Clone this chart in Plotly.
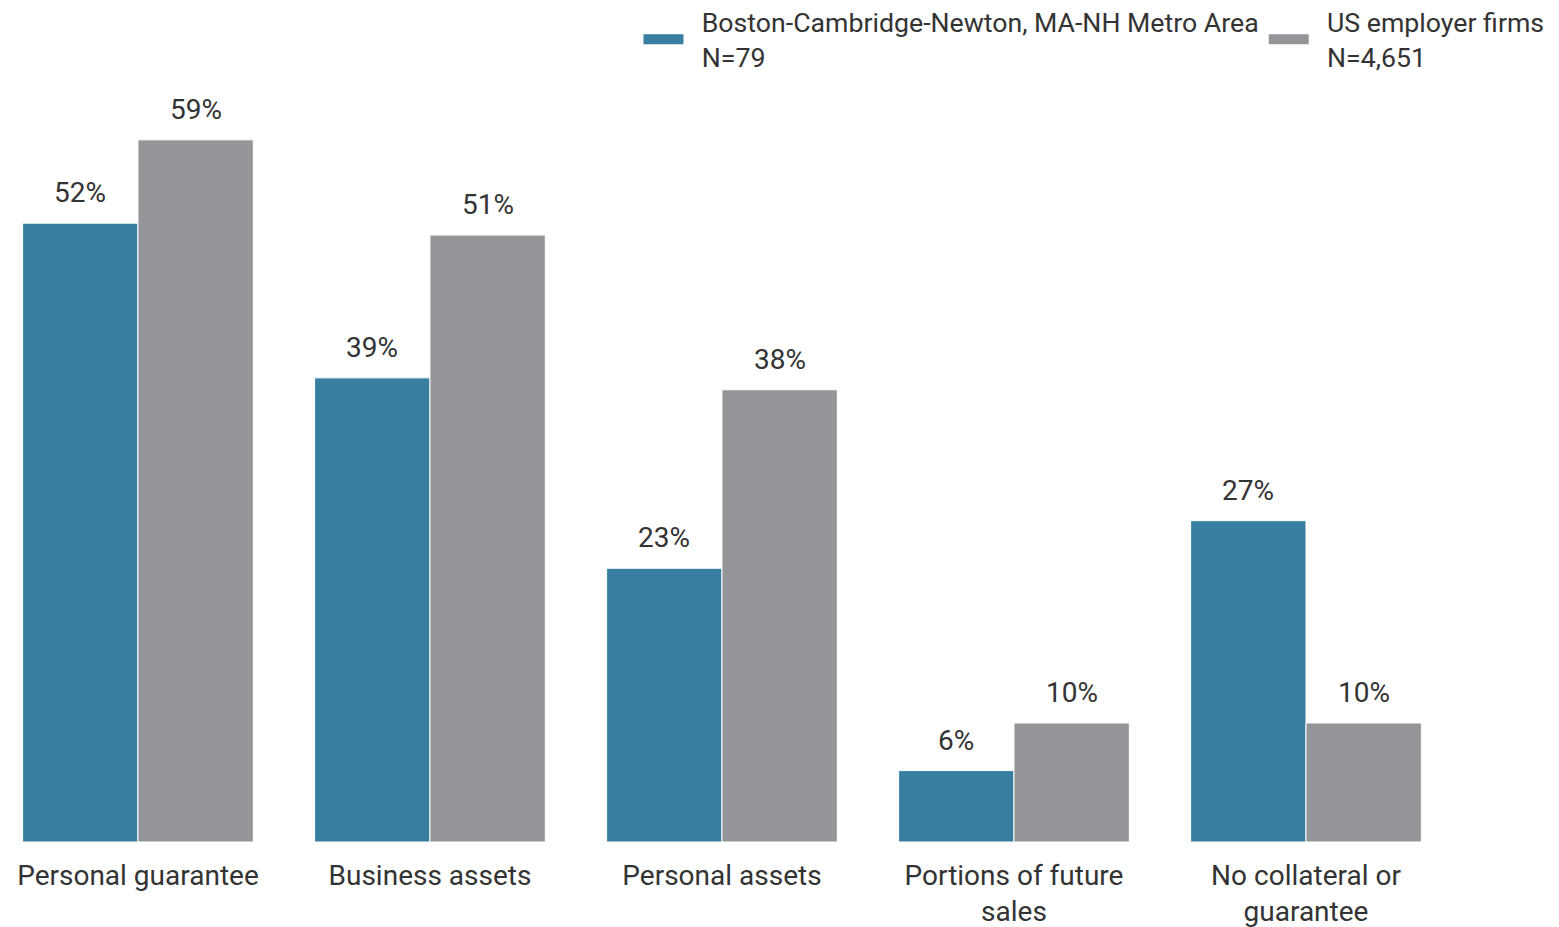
import plotly.graph_objects as go

categories = ["Personal guarantee", "Business assets", "Personal assets",
              "Portions of future<br>sales", "No collateral or<br>guarantee"]
boston = [52, 39, 23, 6, 27]
us = [59, 51, 38, 10, 10]
series_names = ["Boston-Cambridge-Newton, MA-NH Metro Area<br>N=79",
                "US employer firms<br>N=4,651"]
colors = ["#377EA0", "#939598"]

BARGAP = 0.21
half = (1 - BARGAP) / 4  # half of a single bar width in category units
PAD = "\u00a0\u00a0"

fig = go.Figure()
annotations = []
for k, (name, vals, col) in enumerate(zip(series_names, [boston, us], colors)):
    fig.add_trace(go.Bar(
        x=categories, y=vals, marker=dict(color=col, line=dict(color="white", width=1)),
        showlegend=False, name=name, hoverinfo="x+y"))
    offset = -half if k == 0 else half
    for i, v in enumerate(vals):
        annotations.append(dict(
            x=i + offset, y=v, xref="x", yref="y", text=f"{v}%",
            showarrow=False, yanchor="bottom", yshift=12,
            font=dict(size=28, family="Roboto", color="#333333")))
    # legend proxy
    legend_text = "<br>".join(PAD + part for part in name.split("<br>"))
    fig.add_trace(go.Scatter(
        x=[None], y=[None], mode="lines", line=dict(color=col, width=12),
        name=legend_text, showlegend=True))

fig.update_layout(
    width=1551, height=919,
    paper_bgcolor="white", plot_bgcolor="white",
    margin=dict(l=0, r=107, t=72, b=85, autoexpand=False),
    bargap=BARGAP, bargroupgap=0,
    barmode="group",
    annotations=annotations,
    font=dict(family="Roboto", color="#333333"),
    legend=dict(orientation="h", x=1.0675, xanchor="right", y=1.1075, yanchor="top",
                font=dict(size=26.7, family="Roboto", color="#333333"),
                itemwidth=40, tracegroupgap=0, traceorder="normal"),
    xaxis=dict(range=[-0.445, 4.5], showgrid=False, showline=False, ticks="",
               ticklabelstandoff=14,
               tickfont=dict(size=28, family="Roboto", color="#333333")),
    yaxis=dict(range=[0, 64.03], visible=False, showgrid=False),
)
fig.write_html("out.html")
